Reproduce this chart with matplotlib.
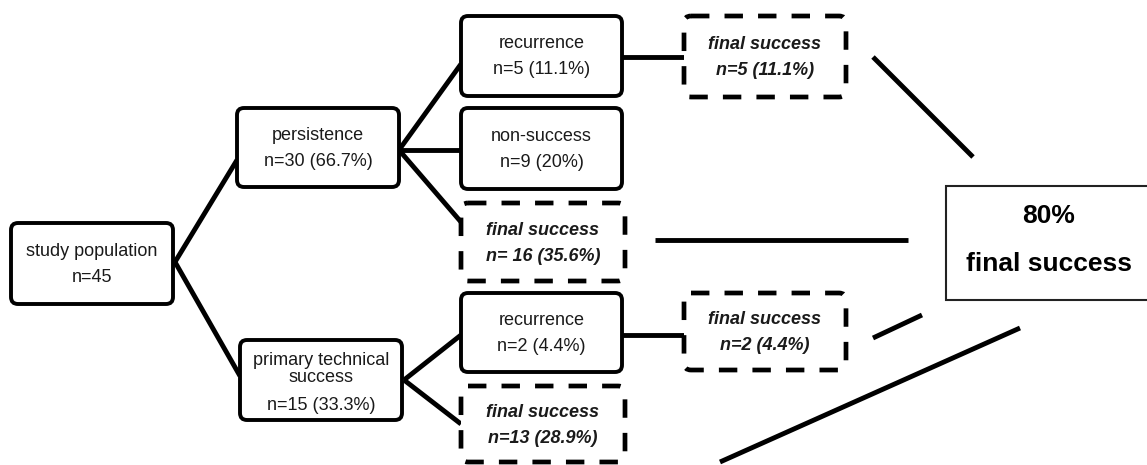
import matplotlib.pyplot as plt
from matplotlib.patches import FancyBboxPatch, Rectangle

plt.rcParams['font.family'] = ['Liberation Sans', 'DejaVu Sans']

# node data
names = ["study population", "persistence", "primary technical\nsuccess",
         "recurrence", "non-success", "final success",
         "recurrence", "final success",
         "final success", "final success"]
counts = [45, 30, 15, 5, 9, 16, 2, 13, 5, 2]
pcts = [None, "66.7%", "33.3%", "11.1%", "20%", "35.6%", "4.4%", "28.9%", "11.1%", "4.4%"]
dashed = [False, False, False, False, False, True, False, True, True, True]
overall = "80%"
overall_label = "final success"

# layout (pixels): x0, y0, x1, y1
boxes = [(11, 223, 173, 304), (237, 108, 399, 187), (240, 340, 402, 420),
         (461, 16, 622, 96), (461, 108, 622, 189), (461, 203, 625, 281),
         (461, 293, 622, 372), (461, 386, 625, 462),
         (684, 16, 846, 97), (684, 293, 846, 370)]

links = [((175, 262), (237, 160)), ((175, 262), (240, 376)),
         ((399, 150), (461, 64)), ((399, 150), (461, 150)), ((399, 150), (461, 222)),
         ((404, 380), (461, 335)), ((404, 380), (461, 424)),
         ((622, 57), (684, 57)), ((622, 335), (684, 335)),
         ((873, 57), (973, 157)), ((655, 240), (908, 240)),
         ((873, 338), (922, 315)), ((720, 462), (1020, 328))]

fig = plt.figure(figsize=(11.47, 4.65), dpi=100)
ax = fig.add_axes([0, 0, 1, 1])
ax.set_xlim(0, 1147)
ax.set_ylim(465, 0)
ax.axis('off')

for (a, b) in links:
    ax.plot([a[0], b[0]], [a[1], b[1]], color='black', lw=3.5, solid_capstyle='butt')

for i in range(len(names)):
    x0, y0, x1, y1 = boxes[i]
    r = 7
    if dashed[i]:
        p = FancyBboxPatch((x0 + r, y0 + r), x1 - x0 - 2 * r, y1 - y0 - 2 * r,
                           boxstyle=f"round,pad={r}", fc='white', ec='black',
                           lw=3.4, linestyle=(0, (3.9, 3.2)), zorder=3)
    else:
        p = FancyBboxPatch((x0 + r, y0 + r), x1 - x0 - 2 * r, y1 - y0 - 2 * r,
                           boxstyle=f"round,pad={r}", fc='white', ec='black',
                           lw=2.8, zorder=3)
    ax.add_patch(p)
    cx = (x0 + x1) / 2
    cy = (y0 + y1) / 2
    if pcts[i] is None:
        second = f"n={counts[i]}"
    elif names[i] == "final success" and counts[i] == 16:
        second = f"n= {counts[i]} ({pcts[i]})"
    else:
        second = f"n={counts[i]} ({pcts[i]})"
    if dashed[i]:
        kw = dict(fontsize=13, fontweight='bold', style='italic', color='#1a1a1a')
    else:
        kw = dict(fontsize=13, color='#1a1a1a')
    if "\n" in names[i]:
        ax.text(cx, cy - 11, names[i], ha='center', va='center', zorder=4,
                linespacing=0.95, **kw)
        ax.text(cx, cy + 25, second, ha='center', va='center', zorder=4, **kw)
    else:
        ax.text(cx, cy - 12, names[i], ha='center', va='center', zorder=4, **kw)
        ax.text(cx, cy + 14, second, ha='center', va='center', zorder=4, **kw)

ax.add_patch(Rectangle((946, 186), 205, 114, fc='white', ec='#222222', lw=1.5, zorder=3))
ax.text(1049, 216, overall, ha='center', va='center', fontsize=19,
        fontweight='bold', zorder=4)
ax.text(1049, 264, overall_label, ha='center', va='center', fontsize=19,
        fontweight='bold', zorder=4)

fig.savefig("out.png", dpi=100, facecolor='white')
